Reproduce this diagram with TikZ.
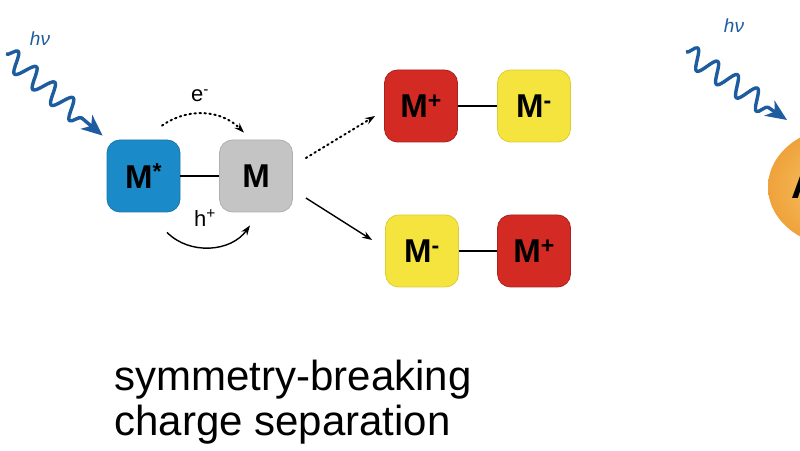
\documentclass[tikz,border=0pt]{standalone}
\usepackage{fontspec}
\setmainfont{Liberation Sans}
\usetikzlibrary{arrows.meta,decorations.pathmorphing}
\definecolor{mblue}{HTML}{1A8BC8}
\definecolor{mgrey}{HTML}{C4C4C4}
\definecolor{mred}{HTML}{D42A24}
\definecolor{myellow}{HTML}{F5E43E}
\definecolor{wavec}{HTML}{1D5C9E}
\definecolor{orngout}{HTML}{EFA23C}
\definecolor{orngin}{HTML}{F8CA6A}
\begin{document}
\begin{tikzpicture}[x=1pt,y=1pt,
  box/.style={rounded corners=13pt, minimum width=73pt, minimum height=72pt, inner sep=0pt,
    line width=0.8pt, font=\fontsize{33}{33}\selectfont\bfseries},
  bluebox/.style={box, fill=mblue, draw=mblue!85!black},
  greybox/.style={box, fill=mgrey, draw=mgrey!90!black},
  redbox/.style={box, fill=mred, draw=mred!80!black},
  yelbox/.style={box, fill=myellow, draw=myellow!90!black},
  bond/.style={line width=2.6pt},
  wavy/.style={draw=wavec, line width=3.4pt, line join=round, decorate,
    decoration={snake, amplitude=10pt, segment length=24pt, post length=22pt},
    -{Stealth[length=21pt,width=18pt,inset=6pt]}},
  hvlabel/.style={text=wavec, font=\fontsize{19}{19}\selectfont\itshape},
  small/.style={font=\fontsize{22}{22}\selectfont},
  thinarrow/.style={line width=1.4pt, -{Stealth[length=10pt,width=7pt]}},
  dotarrow/.style={thinarrow, line width=2pt, line cap=round, dash pattern=on 1.5pt off 3.5pt}
]
\useasboundingbox (0,0) rectangle (800,450);
\clip (0,0) rectangle (800,450);

% boxes
\node[bluebox] (Ms) at (143.5,274) {M\textsuperscript{*}};
\node[greybox] (M) at (256,274) {M};
\node[redbox] (Tp) at (421,344) {M\textsuperscript{+}};
\node[yelbox] (Tm) at (534,344) {M\textsuperscript{-}};
\node[yelbox] (Bm) at (422,199) {M\textsuperscript{-}};
\node[redbox] (Bp) at (534,199) {M\textsuperscript{+}};

% bonds
\draw[bond] (Ms) -- (M);
\draw[bond] (Tp) -- (Tm);
\draw[bond] (Bm) -- (Bp);

% electron and hole transfer
\coordinate (e1) at ([shift={(18.5,14)}]Ms.north);
\coordinate (e2) at ([shift={(-12,7)}]M.north);
\draw[dotarrow] (e1) to[bend left=40] (e2);
\node[small] (elab) at (200,354) {e\textsuperscript{-}};
\coordinate (h1) at ([shift={(23.5,-20)}]Ms.south);
\coordinate (h2) at ([shift={(-6,-13)}]M.south);
\draw[thinarrow] (h1) to[bend right=50] (h2);
\node[small] (hlab) at (205,232) {h\textsuperscript{+}};

% branching arrows
\coordinate (a1) at ([shift={(13,18)}]M.east);
\coordinate (a2) at ([shift={(13,-22)}]M.east);
\draw[dotarrow] (a1) -- ([shift={(-9,-10)}]Tp.west);
\draw[thinarrow] (a2) -- ([shift={(-13,11)}]Bm.west);

% photons
\coordinate (w1) at (6,396);
\draw[wavy] (w1) -- ([shift={(-4,4)}]Ms.north west);
\node[hvlabel] (hv1) at (40,411) {hν};
\coordinate (w2) at (686,398);
\coordinate (w2e) at (787,330);
\draw[wavy] (w2) -- (w2e);
\node[hvlabel] (hv2) at (734,424) {hν};

% partial orange particle at right edge
\shade[inner color=orngin, outer color=orngout] (842,263) ellipse (74 and 60);
\node[font=\fontsize{40}{40}\selectfont\bfseries] (A) at (806,265) {A};

% caption
\node[anchor=base west, font=\fontsize{42}{42}\selectfont] (t1) at (111,60) {symmetry-breaking};
\node[anchor=base west, font=\fontsize{42}{42}\selectfont] (t2) at (111,15) {charge separation};
\end{tikzpicture}
\end{document}
